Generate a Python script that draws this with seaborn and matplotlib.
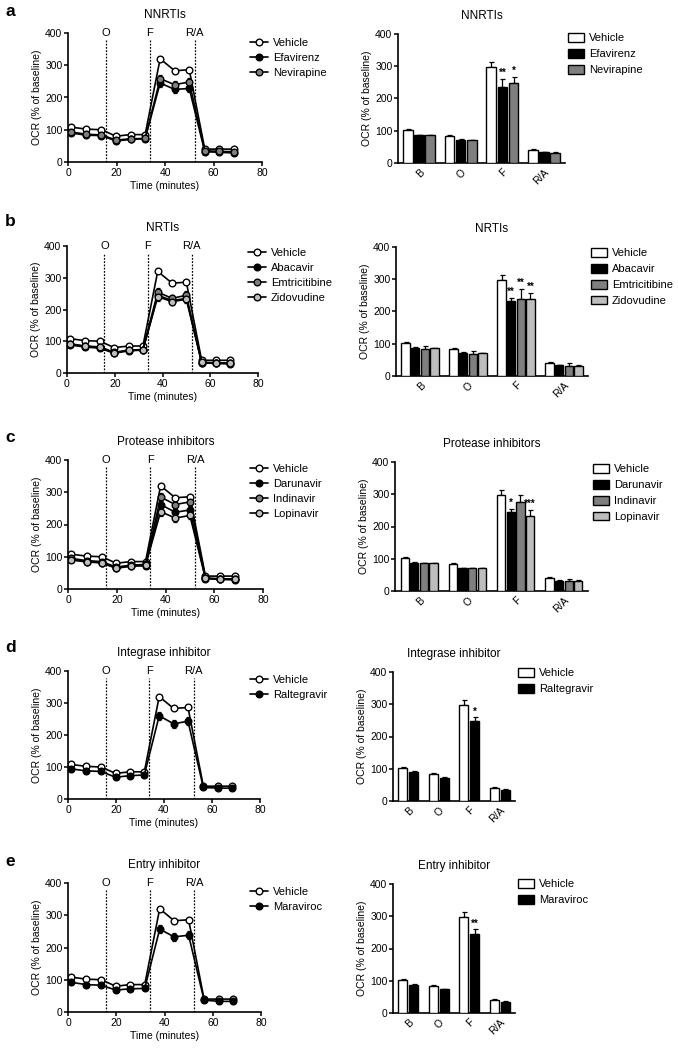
import numpy as np
import pandas as pd
import matplotlib
matplotlib.use("Agg")
import matplotlib.pyplot as plt
from matplotlib.patches import Patch
import seaborn as sns

# ── data ──────────────────────────────────────────────────────────────────────

TIME = [1.3, 7.6, 13.8, 19.8, 25.8, 31.8, 38.0, 44.0, 50.0, 56.4, 62.4, 68.4]
INJECTIONS = [("O", 15.7), ("F", 33.8), ("R/A", 52.3)]
PHASES = ["B", "O", "F", "R/A"]

# time course, OCR (% of baseline)
VEH_LINE = [108, 102, 100, 80, 85, 85, 320, 283, 286, 40, 40, 40]
VEH_LINE_ERR = [3, 3, 3, 3, 3, 3, 6, 5, 5, 2, 2, 2]
EFAV_LINE = [90, 83, 82, 65, 70, 72, 245, 225, 228, 32, 30, 28]
NEVI_LINE = [93, 86, 84, 68, 72, 73, 258, 240, 248, 35, 33, 32]
ABAC_LINE = [88, 82, 78, 62, 70, 72, 245, 228, 235, 32, 30, 29]
EMTR_LINE = [92, 85, 82, 65, 72, 74, 255, 235, 245, 33, 31, 30]
ZIDO_LINE = [90, 84, 81, 64, 71, 73, 240, 225, 232, 34, 32, 31]
DARU_LINE = [92, 85, 82, 64, 71, 72, 262, 238, 245, 32, 30, 28]
INDI_LINE = [95, 88, 85, 68, 74, 76, 285, 262, 270, 34, 32, 31]
LOPI_LINE = [90, 84, 81, 65, 72, 73, 240, 220, 228, 33, 31, 30]
RALT_LINE = [94, 88, 86, 68, 73, 75, 260, 235, 243, 36, 34, 34]
MARA_LINE = [92, 85, 83, 68, 72, 73, 257, 233, 238, 37, 33, 33]
DRUG_LINE_ERR = [4, 4, 4, 4, 4, 4, 13, 12, 12, 3, 3, 3]

# phase summaries
VEH_BAR = [103, 85, 298, 41]
VEH_BAR_ERR = [1, 1, 15, 2]
EFAV_BAR = [86, 72, 235, 33]
EFAV_BAR_ERR = [1, 2, 27, 2]
NEVI_BAR = [87, 70, 247, 32]
NEVI_BAR_ERR = [1, 1, 20, 3]
ABAC_BAR = [86, 71, 233, 33]
ABAC_BAR_ERR = [3, 3, 10, 2]
EMTR_BAR = [85, 68, 238, 31]
EMTR_BAR_ERR = [9, 9, 32, 10]
ZIDO_BAR = [87, 71, 240, 30]
ZIDO_BAR_ERR = [1, 1, 18, 5]
DARU_BAR = [88, 70, 245, 32]
DARU_BAR_ERR = [1, 1, 10, 3]
INDI_BAR = [87, 70, 275, 30]
INDI_BAR_ERR = [1, 1, 23, 7]
LOPI_BAR = [87, 70, 232, 31]
LOPI_BAR_ERR = [1, 1, 20, 3]
RALT_BAR = [90, 72, 247, 35]
RALT_BAR_ERR = [2, 2, 12, 2]
MARA_BAR = [88, 73, 245, 35]
MARA_BAR_ERR = [2, 2, 15, 2]

# ── style ─────────────────────────────────────────────────────────────────────

WHITE = "#FFFFFF"
BLACK = "#000000"
GRAY = "#7F7F7F"
LGRAY = "#BDBDBD"

sns.set_style("ticks")
plt.rcParams.update({
    "font.family": ["Liberation Sans", "DejaVu Sans"],
    "text.color": "black",
    "axes.labelcolor": "black",
    "xtick.color": "black",
    "ytick.color": "black",
    "axes.edgecolor": "black",
    "axes.linewidth": 1.2,
    "xtick.major.width": 1.1,
    "ytick.major.width": 1.1,
    "xtick.major.size": 3,
    "ytick.major.size": 3,
    "xtick.major.pad": 1.5,
    "ytick.major.pad": 1.0,
    "xtick.labelsize": 7.5,
    "ytick.labelsize": 7.5,
    "axes.labelsize": 7.5,
    "axes.titlesize": 8.5,
})

W, H = 678, 1050


def add_ax(fig, left, right, top, bottom):
    return fig.add_axes([left / W, 1 - bottom / H, (right - left) / W, (bottom - top) / H])


def draw_lines(ax, series):
    for name, vals, errs, face in series:
        ax.errorbar(TIME, vals, yerr=errs, fmt="none", ecolor=BLACK,
                    elinewidth=0.9, capsize=1.6, capthick=0.9, zorder=2)
        sns.lineplot(x=TIME, y=vals, ax=ax, color=BLACK, lw=1.2, marker="o",
                     markersize=4.8, markerfacecolor=face, markeredgecolor=BLACK,
                     markeredgewidth=1.0, label=name, errorbar=None, legend=False,
                     zorder=3)
    for lab, pos in INJECTIONS:
        ax.vlines(pos, 0, 378, colors=BLACK, linestyles=(0, (1.4, 1.2)), lw=0.9)
        ax.text(pos, 400, lab, ha="center", va="center", fontsize=8)
    ax.set_xlim(0, 80)
    ax.set_ylim(0, 400)
    ax.set_xticks([0, 20, 40, 60, 80])
    ax.set_yticks([0, 100, 200, 300, 400])
    ax.set_xlabel("Time (minutes)", labelpad=2)
    ax.set_ylabel("OCR (% of baseline)", labelpad=2)
    sns.despine(ax=ax)


def draw_bars(ax, names, values, errs, colors, stars, width):
    df = pd.DataFrame({
        "phase": PHASES * len(names),
        "treatment": np.repeat(names, len(PHASES)),
        "ocr": np.concatenate(values),
    })
    sns.barplot(data=df, x="phase", y="ocr", hue="treatment", hue_order=names,
                palette=dict(zip(names, colors)), saturation=1, edgecolor=BLACK,
                linewidth=1.0, width=width, gap=0.14, errorbar=None, legend=False,
                ax=ax, zorder=3)
    for cont, err, st in zip(ax.containers, errs, stars):
        xs = [b.get_x() + b.get_width() / 2 for b in cont]
        ys = [b.get_height() for b in cont]
        ax.errorbar(xs, ys, yerr=[[0] * len(err), err], fmt="none", ecolor=BLACK,
                    elinewidth=0.9, capsize=1.8, capthick=0.9, zorder=2)
        for x, y, e, s in zip(xs, ys, err, st):
            if s:
                ax.text(x, y + e + 2, s, ha="center", va="bottom", fontsize=7,
                        fontweight="bold")
    ax.set_ylim(0, 400)
    ax.set_xlim(-0.5, len(PHASES) - 0.5)
    ax.set_yticks([0, 100, 200, 300, 400])
    ax.set_xlabel("")
    ax.set_ylabel("OCR (% of baseline)", labelpad=2)
    ax.tick_params(axis="x", length=0, pad=3)
    for t in ax.get_xticklabels():
        t.set_rotation(45)
        t.set_ha("right")
        t.set_rotation_mode("anchor")
    sns.despine(ax=ax)


PANELS = [
    dict(letter="a", title="NNRTIs", letter_y=12,
         line_box=(68, 262, 33, 162), bar_box=(398, 565, 34, 163),
         names=["Vehicle", "Efavirenz", "Nevirapine"],
         lines=[VEH_LINE, EFAV_LINE, NEVI_LINE],
         bars=[VEH_BAR, EFAV_BAR, NEVI_BAR],
         bar_errs=[VEH_BAR_ERR, EFAV_BAR_ERR, NEVI_BAR_ERR],
         stars=[["", "", "", ""], ["", "", "**", ""], ["", "", "*", ""]],
         line_leg=(250, 36), bar_leg=(568, 30), width=0.8),
    dict(letter="b", title="NRTIs", letter_y=222,
         line_box=(67, 258, 246, 373), bar_box=(396, 588, 247, 376),
         names=["Vehicle", "Abacavir", "Emtricitibine", "Zidovudine"],
         lines=[VEH_LINE, ABAC_LINE, EMTR_LINE, ZIDO_LINE],
         bars=[VEH_BAR, ABAC_BAR, EMTR_BAR, ZIDO_BAR],
         bar_errs=[VEH_BAR_ERR, ABAC_BAR_ERR, EMTR_BAR_ERR, ZIDO_BAR_ERR],
         stars=[["", "", "", ""], ["", "", "**", ""], ["", "", "**", ""], ["", "", "**", ""]],
         line_leg=(248, 246), bar_leg=(591, 245), width=0.8),
    dict(letter="c", title="Protease inhibitors", letter_y=438,
         line_box=(68, 263, 460, 589), bar_box=(395, 588, 462, 591),
         names=["Vehicle", "Darunavir", "Indinavir", "Lopinavir"],
         lines=[VEH_LINE, DARU_LINE, INDI_LINE, LOPI_LINE],
         bars=[VEH_BAR, DARU_BAR, INDI_BAR, LOPI_BAR],
         bar_errs=[VEH_BAR_ERR, DARU_BAR_ERR, INDI_BAR_ERR, LOPI_BAR_ERR],
         stars=[["", "", "", ""], ["", "", "*", ""], ["", "", "", ""], ["", "", "***", ""]],
         line_leg=(250, 462), bar_leg=(593, 461), width=0.8),
    dict(letter="d", title="Integrase inhibitor", letter_y=648,
         line_box=(68, 260, 671, 799), bar_box=(393, 515, 672, 801),
         names=["Vehicle", "Raltegravir"],
         lines=[VEH_LINE, RALT_LINE],
         bars=[VEH_BAR, RALT_BAR],
         bar_errs=[VEH_BAR_ERR, RALT_BAR_ERR],
         stars=[["", "", "", ""], ["", "", "*", ""]],
         line_leg=(250, 673), bar_leg=(518, 665), width=0.72),
    dict(letter="e", title="Entry inhibitor", letter_y=862,
         line_box=(68, 261, 883, 1012), bar_box=(393, 515, 884, 1013),
         names=["Vehicle", "Maraviroc"],
         lines=[VEH_LINE, MARA_LINE],
         bars=[VEH_BAR, MARA_BAR],
         bar_errs=[VEH_BAR_ERR, MARA_BAR_ERR],
         stars=[["", "", "", ""], ["", "", "**", ""]],
         line_leg=(250, 885), bar_leg=(518, 876), width=0.72),
]

LINE_FACES = [WHITE, BLACK, GRAY, LGRAY]
BAR_FACES = [WHITE, BLACK, GRAY, LGRAY]

fig = plt.figure(figsize=(W / 100, H / 100), dpi=100)

for p in PANELS:
    n = len(p["names"])
    # time course
    ax = add_ax(fig, *p["line_box"])
    errs = [VEH_LINE_ERR] + [DRUG_LINE_ERR] * (n - 1)
    draw_lines(ax, list(zip(p["names"], p["lines"], errs, LINE_FACES[:n])))
    ax.set_title(p["title"], pad=10.5)
    lx, ly = p["line_leg"]
    ax.legend(loc="upper left", bbox_to_anchor=(lx / W, 1 - (ly + 2) / H),
              bbox_transform=fig.transFigure, frameon=False, fontsize=8,
              handlelength=1.6, handletextpad=0.45, labelspacing=0.44,
              borderpad=0, borderaxespad=0, numpoints=1)

    # phase bars
    bx = add_ax(fig, *p["bar_box"])
    draw_bars(bx, p["names"], p["bars"], p["bar_errs"], BAR_FACES[:n],
              p["stars"], p["width"])
    bx.set_title(p["title"], pad=10.5)
    gx, gy = p["bar_leg"]
    bx.legend(handles=[Patch(facecolor=c, edgecolor=BLACK, linewidth=1.0, label=nm)
                       for nm, c in zip(p["names"], BAR_FACES[:n])],
              loc="upper left", bbox_to_anchor=(gx / W, 1 - (gy + 3) / H),
              bbox_transform=fig.transFigure, frameon=False, fontsize=8,
              handlelength=1.4, handleheight=0.85, handletextpad=0.5,
              labelspacing=0.5, borderpad=0, borderaxespad=0)

    fig.text(5 / W, 1 - p["letter_y"] / H, p["letter"], fontsize=12.5,
             fontweight="bold", ha="left", va="center")

fig.savefig("out.png", dpi=100, facecolor="white")
